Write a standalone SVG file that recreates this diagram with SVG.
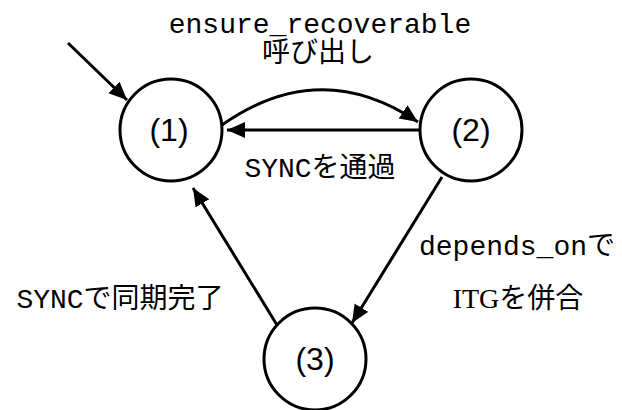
<svg xmlns="http://www.w3.org/2000/svg" width="622" height="410" viewBox="0 0 622 410">
  <style>
    .state { fill: #ffffff; stroke: #000000; stroke-width: 3; }
    .state-label { font-family: "Liberation Sans", Arial, sans-serif; font-size: 32px; fill: #000000; text-anchor: middle; }
    .edge { fill: none; stroke: #000000; stroke-width: 3; marker-end: url(#arrow); }
    .label { font-family: "Liberation Mono", "Noto Sans CJK JP", monospace; font-size: 28px; fill: #000000; text-anchor: middle; }
    .serif { font-family: "Liberation Serif", "Noto Sans CJK JP", serif; }
  </style>
  <defs>
    <marker id="arrow" markerUnits="userSpaceOnUse" markerWidth="20" markerHeight="18" refX="18" refY="8" orient="auto">
      <path d="M0,0 L18,8 L0,16 z" fill="#000000"/>
    </marker>
  </defs>

  <!-- transitions -->
  <g id="connectors">
    <line class="edge" x1="68" y1="43" x2="127" y2="100"/>
    <path class="edge" d="M222,125 Q320,56 418,122"/>
    <line class="edge" x1="420" y1="130" x2="227" y2="130"/>
    <line class="edge" x1="442" y1="177" x2="352" y2="323"/>
    <line class="edge" x1="277" y1="325" x2="193" y2="188"/>
  </g>

  <!-- states -->
  <g id="state1">
    <circle class="state" cx="171" cy="130" r="51"/>
    <text class="state-label" x="169" y="141">(1)</text>
  </g>
  <g id="state2">
    <circle class="state" cx="471" cy="130" r="51"/>
    <text class="state-label" x="471" y="141">(2)</text>
  </g>
  <g id="state3">
    <circle class="state" cx="315" cy="359" r="51"/>
    <text class="state-label" x="315" y="370">(3)</text>
  </g>

  <!-- transition labels -->
  <g id="labels">
    <text class="label" x="320" y="33">ensure_recoverable</text>
    <text class="label" x="318" y="62">呼び出し</text>
    <text class="label" x="320" y="177">SYNCを通過</text>
    <text class="label" x="517" y="255">depends_onで</text>
    <text class="label" x="518" y="308"><tspan class="serif">ITG</tspan>を併合</text>
    <text class="label" x="120" y="308">SYNCで同期完了</text>
  </g>
</svg>
